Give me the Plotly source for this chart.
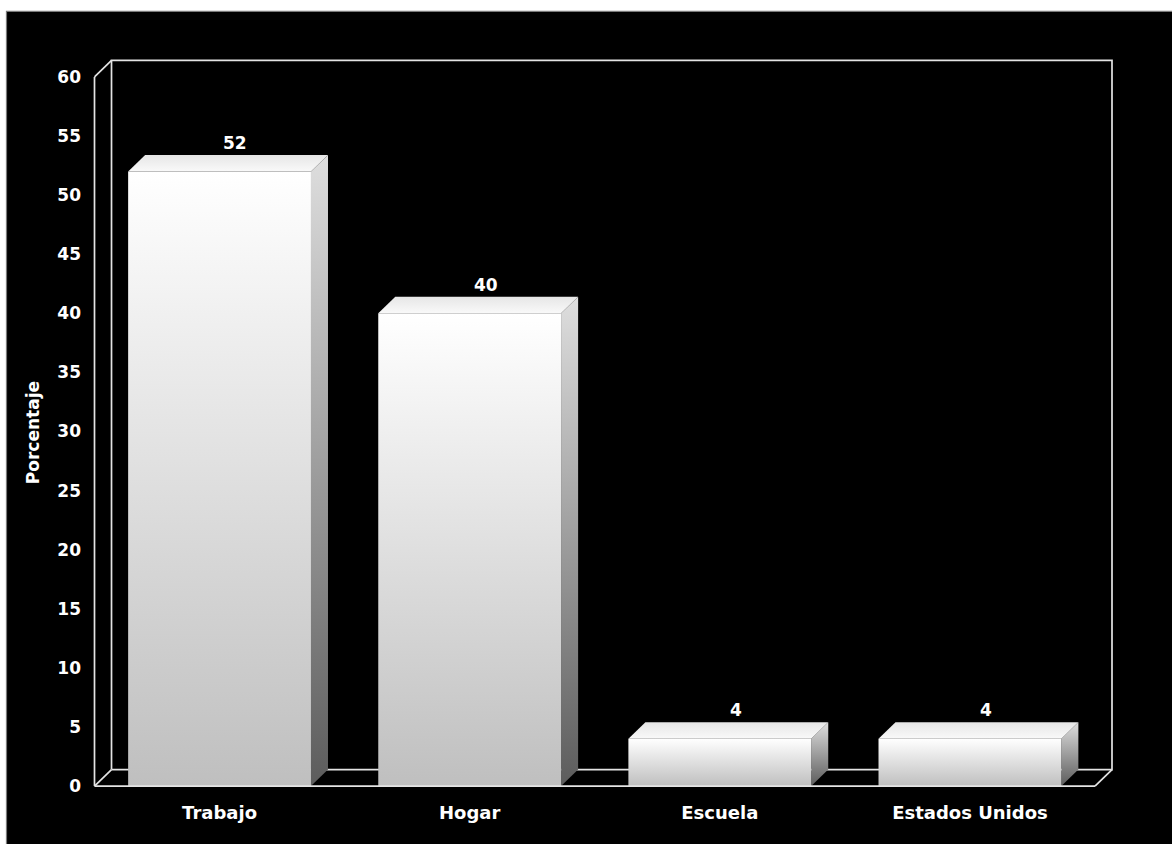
import plotly.graph_objects as go

# ---- data ----
categories = ["Trabajo", "Hogar", "Escuela", "Estados Unidos"]
values = [52, 40, 4, 4]
y_ticks = list(range(0, 61, 5))
y_title = "Porcentaje"

# ---- geometry / style constants ----
BAR_W = 0.731          # front-face width in category units
DX = 0.068             # 3D depth along x (category units)
DY = 1.395             # 3D depth along y (value units)
Y_MAX = 60
X_LO, X_HI = -0.5, len(categories) - 0.5
XR = [-0.51, 3.58]
YR = [-0.25, 61.6]
FONT = "DejaVu Sans"
LINE_COL = "#e4e4e4"
LINE_W = 1.7

fig = go.Figure()

def poly(xs, ys, grad, name=""):
    fig.add_trace(go.Scatter(
        x=xs + [xs[0]], y=ys + [ys[0]], mode="lines", fill="toself",
        line=dict(width=0, color="rgba(0,0,0,0)"),
        fillgradient=dict(type="vertical", colorscale=grad),
        hoverinfo="skip", showlegend=False, name=name))

def line(xs, ys):
    fig.add_trace(go.Scatter(x=xs, y=ys, mode="lines",
                             line=dict(color=LINE_COL, width=LINE_W),
                             hoverinfo="skip", showlegend=False))

# back wall + floor back edge + diagonals (behind bars)
line([X_LO + DX, X_LO + DX, X_HI + DX, X_HI + DX, X_LO + DX],
     [DY, Y_MAX + DY, Y_MAX + DY, DY, DY])
line([X_LO, X_LO + DX], [Y_MAX, Y_MAX + DY])
line([X_LO, X_LO + DX], [0, DY])
line([X_HI, X_HI + DX], [0, DY])
line([X_LO, X_LO], [0, Y_MAX])

# bars
for i, v in enumerate(values):
    xl, xr = i - BAR_W / 2, i + BAR_W / 2
    # side face
    poly([xr, xr + DX, xr + DX, xr], [0, DY, v + DY, v],
         [[0, "#5c5c5c"], [1, "#dedede"]])
    # top face
    poly([xl, xr, xr + DX, xl + DX], [v, v, v + DY, v + DY],
         [[0, "#f9f9f9"], [1, "#e6e6e6"]])
    # front face
    poly([xl, xr, xr, xl], [0, 0, v, v],
         [[0, "#bfbfbf"], [1, "#ffffff"]])

# front floor edge (on top)
line([X_LO, X_HI], [0, 0])

# value labels
for i, v in enumerate(values):
    fig.add_annotation(x=i + DX * 0.93, y=v + DY, text=str(v), showarrow=False,
                       xref="x", yref="y", yanchor="bottom", yshift=0,
                       font=dict(family=FONT, size=17, color="white", weight="bold"))

# axis title
fig.add_annotation(text=y_title, textangle=-90, showarrow=False,
                   xref="paper", yref="paper", x=-0.0575, y=0.487,
                   xanchor="center", yanchor="middle",
                   font=dict(family=FONT, size=17, color="white", weight="bold"))

# outer black panel with grey border
fig.add_shape(type="rect", xref="paper", yref="paper",
              x0=-0.0836, y0=-0.09, x1=1.07, y1=1.0637,
              fillcolor="black", line=dict(color="#7a7a7a", width=1.2),
              layer="below")

fig.update_layout(
    width=1172, height=844,
    margin=dict(l=91.55, r=56.7, t=58.1, b=54.5, pad=0),
    paper_bgcolor="white", plot_bgcolor="rgba(0,0,0,0)",
    showlegend=False,
    xaxis=dict(range=XR, tickvals=list(range(len(categories))), ticktext=categories,
               showgrid=False, zeroline=False, showline=False, ticks="",
               ticklabelstandoff=11,
               tickfont=dict(family=FONT, size=18, color="white", weight="bold"),
               fixedrange=True),
    yaxis=dict(range=YR, tickvals=y_ticks, showgrid=False, zeroline=False,
               showline=False, ticks="", ticklabelstandoff=10,
               tickfont=dict(family=FONT, size=17, color="white", weight="bold"),
               fixedrange=True),
)

fig.write_html("out.html")
